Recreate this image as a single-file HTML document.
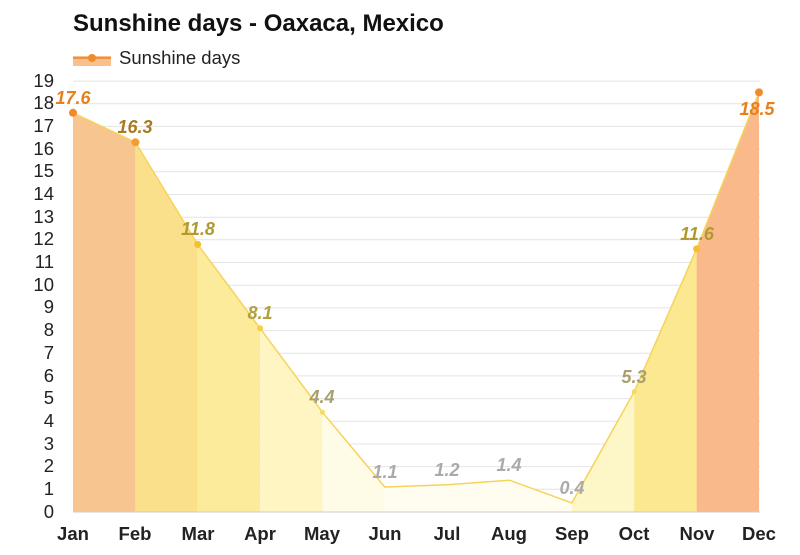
<!DOCTYPE html><html><head><style>body{margin:0;background:#fff;font-family:"Liberation Sans",sans-serif}</style></head><body>
<svg width="800" height="550" xmlns="http://www.w3.org/2000/svg" font-family="Liberation Sans, sans-serif">
<rect width="800" height="550" fill="#fff"/>
<text x="73" y="31" font-size="24" font-weight="bold" fill="#111">Sunshine days - Oaxaca, Mexico</text>
<rect x="73" y="56" width="38" height="10" fill="#f8c08e"/>
<line x1="73" y1="58" x2="111" y2="58" stroke="#f09040" stroke-width="2"/>
<circle cx="92" cy="58" r="4" fill="#f08a2a"/>
<text x="119" y="64" font-size="18.5" fill="#222">Sunshine days</text>
<g stroke="#e4e4e4" stroke-width="1">
<line x1="73" x2="760" y1="81.1" y2="81.1"/><line x1="73" x2="760" y1="103.8" y2="103.8"/><line x1="73" x2="760" y1="126.4" y2="126.4"/><line x1="73" x2="760" y1="149.1" y2="149.1"/><line x1="73" x2="760" y1="171.8" y2="171.8"/><line x1="73" x2="760" y1="194.5" y2="194.5"/><line x1="73" x2="760" y1="217.2" y2="217.2"/><line x1="73" x2="760" y1="239.8" y2="239.8"/><line x1="73" x2="760" y1="262.5" y2="262.5"/><line x1="73" x2="760" y1="285.2" y2="285.2"/><line x1="73" x2="760" y1="307.9" y2="307.9"/><line x1="73" x2="760" y1="330.6" y2="330.6"/><line x1="73" x2="760" y1="353.2" y2="353.2"/><line x1="73" x2="760" y1="375.9" y2="375.9"/><line x1="73" x2="760" y1="398.6" y2="398.6"/><line x1="73" x2="760" y1="421.3" y2="421.3"/><line x1="73" x2="760" y1="444" y2="444"/><line x1="73" x2="760" y1="466.6" y2="466.6"/><line x1="73" x2="760" y1="489.3" y2="489.3"/>
</g>
<g font-size="18.5" fill="#222" text-anchor="end">
<text x="54" y="518">0</text><text x="54" y="495">1</text><text x="54" y="472">2</text><text x="54" y="450">3</text><text x="54" y="427">4</text><text x="54" y="404">5</text><text x="54" y="382">6</text><text x="54" y="359">7</text><text x="54" y="336">8</text><text x="54" y="313">9</text><text x="54" y="291">10</text><text x="54" y="268">11</text><text x="54" y="245">12</text><text x="54" y="223">13</text><text x="54" y="200">14</text><text x="54" y="177">15</text><text x="54" y="155">16</text><text x="54" y="132">17</text><text x="54" y="109">18</text><text x="54" y="87">19</text>
</g>
<g>
<polygon points="73,512 73,112.8 135.4,142.3 135.4,512" fill="#f7c58f"/>
<polygon points="135.4,512 135.4,142.3 197.7,244.4 197.7,512" fill="#fbe08c"/>
<polygon points="197.7,512 197.7,244.4 260.1,328.3 260.1,512" fill="#fdeb9c"/>
<polygon points="260.1,512 260.1,328.3 322.4,412.2 322.4,512" fill="#fef5c2"/>
<polygon points="322.4,512 322.4,412.2 384.8,487 384.8,512" fill="#fefbe6"/>
<polygon points="384.8,487 447.2,484.8 509.5,480.2 571.9,502.9 571.9,512 384.8,512" fill="#fffdf0"/>
<polygon points="571.9,512 571.9,502.9 634.2,391.8 634.2,512" fill="#fdf6c6"/>
<polygon points="634.2,512 634.2,391.8 696.6,248.9 696.6,512" fill="#fce890"/>
<polygon points="696.6,512 696.6,248.9 759,92.4 759,512" fill="#f9b98a"/>
</g>
<polyline points="73,112.8 135.4,142.3 197.7,244.4 260.1,328.3 322.4,412.2 384.8,487 447.2,484.8 509.5,480.2 571.9,502.9 634.2,391.8 696.6,248.9 759,92.4" fill="none" stroke="#f6d35a" stroke-width="1.5"/>
<line x1="73" x2="760" y1="512" y2="512" stroke="#ccc"/>
<circle cx="73" cy="112.8" r="4" fill="#f08a2a"/><circle cx="135.4" cy="142.3" r="4" fill="#f0a030"/><circle cx="197.7" cy="244.4" r="3.5" fill="#f5c030"/><circle cx="260.1" cy="328.3" r="3" fill="#f5d040"/><circle cx="322.4" cy="412.2" r="2.5" fill="#f5da60"/><circle cx="696.6" cy="248.9" r="3.5" fill="#f5c030"/><circle cx="759" cy="92.4" r="4" fill="#f08a2a"/><circle cx="634.2" cy="391.8" r="2.5" fill="#f5da60"/>
<g font-size="18" font-weight="bold" font-style="italic" text-anchor="middle">
<text x="73" y="104" fill="#e8801a">17.6</text>
<text x="135" y="133" fill="#a87a20">16.3</text>
<text x="198" y="235" fill="#b09a30">11.8</text>
<text x="260" y="319" fill="#b0a040">8.1</text>
<text x="322" y="403" fill="#a8a070">4.4</text>
<text x="385" y="478" fill="#aaa">1.1</text>
<text x="447" y="476" fill="#aaa">1.2</text>
<text x="509" y="471" fill="#aaa">1.4</text>
<text x="572" y="494" fill="#aaa">0.4</text>
<text x="634" y="383" fill="#a8a070">5.3</text>
<text x="697" y="240" fill="#b09a30">11.6</text>
<text x="757" y="115" fill="#e8801a">18.5</text>
</g>
<g font-size="18.5" font-weight="bold" fill="#222" text-anchor="middle">
<text x="73" y="540">Jan</text><text x="135" y="540">Feb</text><text x="198" y="540">Mar</text><text x="260" y="540">Apr</text><text x="322" y="540">May</text><text x="385" y="540">Jun</text><text x="447" y="540">Jul</text><text x="509" y="540">Aug</text><text x="572" y="540">Sep</text><text x="634" y="540">Oct</text><text x="697" y="540">Nov</text><text x="759" y="540">Dec</text>
</g>
</svg></body></html>
